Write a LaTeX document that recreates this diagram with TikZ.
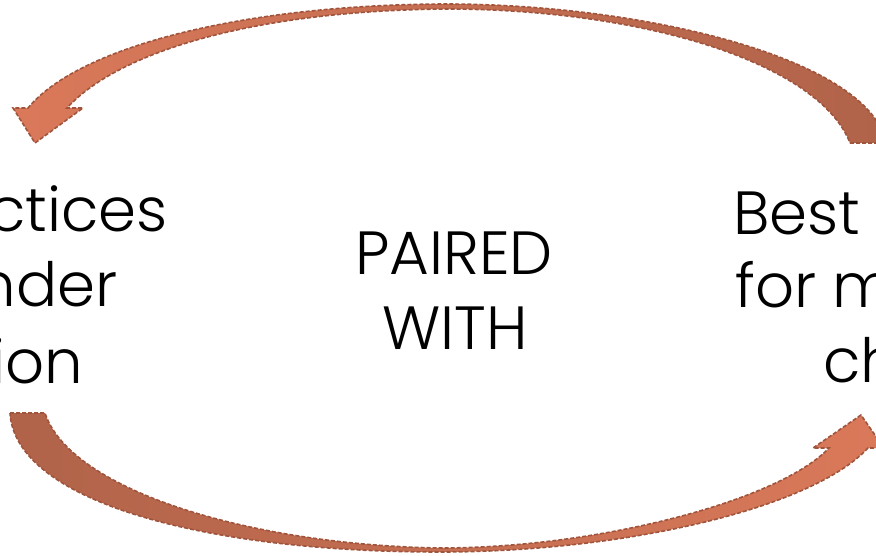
\documentclass[tikz,border=0pt]{standalone}
\usepackage{fontspec}
\setmainfont{Poppins Light}
\usepackage{tikz}
\usetikzlibrary{calc,positioning,shapes}

\definecolor{arrdark}{RGB}{176,99,73}
\definecolor{arrlight}{RGB}{218,121,90}
\definecolor{arrline}{RGB}{160,84,60}

\begin{document}
\begin{tikzpicture}[x=1pt,y=-1pt]
\tikzstyle{txt}=[inner sep=0pt, font=\fontsize{61}{74}\selectfont]
\tikzstyle{arr}=[draw=arrline, line width=1.6pt, dash pattern=on 4pt off 2pt]
\clip (0,0) rectangle (876,556);
% top arrow, tail on the right, head on the left
\path[arr, left color=arrlight, right color=arrdark]
  (850,143) -- (886,143) .. controls (870,60) and (650,5) .. (450,4)
  .. controls (250,4) and (80,45) .. (28,108) -- (13,108) -- (35,143) -- (83,108) -- (67,108)
  .. controls (120,50) and (260,10) .. (450,9) .. controls (650,10) and (820,65) .. (850,143) -- cycle;
% bottom arrow, tail on the left, head on the right
\path[arr, left color=arrdark, right color=arrlight]
  (10,413) -- (45,413) .. controls (70,490) and (250,545) .. (440,548)
  .. controls (600,548) and (780,500) .. (829,448) -- (813,448) -- (861,415) -- (884,448) -- (868,448)
  .. controls (810,510) and (620,552) .. (440,552) .. controls (200,552) and (15,500) .. (10,413) -- cycle;
% texts
\foreach \n/\t/\x/\y in {la/ctices/168/232,lb/nder/118/307,lc/ion/83/383}{\node[txt, anchor=base east] (\n) at (\x,\y){\t};}
\foreach \n/\t/\x/\y in {ra/Best/733/235,rb/for m/735/308,rc/ch/823/382}{\node[txt, anchor=base west] (\n) at (\x,\y){\t};}
\node[txt, anchor=base] (paired) at (454,275){PAIRED};
\node[txt, anchor=base] (with) at (455,349){WITH};
\end{tikzpicture}
\end{document}
